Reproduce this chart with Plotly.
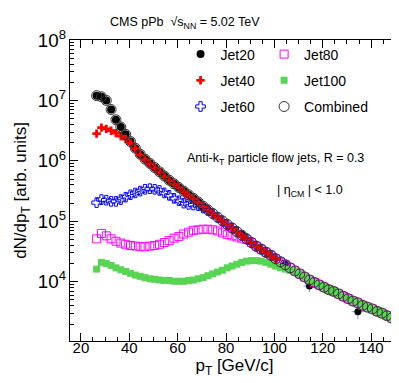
import plotly.graph_objects as go

# bin centres (GeV/c)
PT = [26.5, 28.5, 30.5, 32.5, 34.5, 36.5, 38.5, 40.5, 42.5, 44.5,
      46.5, 48.5, 50.5, 52.5, 54.5, 56.5, 58.5, 60.5, 62.5, 64.5,
      66.5, 68.5, 70.5, 72.5, 74.5, 76.5, 78.5, 80.5, 82.5, 84.5,
      86.5, 88.5, 90.5, 92.5, 94.5, 96.5, 98.5, 100.5, 102.5, 104.5,
      106.5, 108.5, 110.5, 112.5, 114.5, 116.5, 118.5, 120.5, 122.5, 124.5,
      126.5, 128.5, 130.5, 132.5, 134.5, 136.5, 138.5, 140.5, 142.5, 144.5,
      146.5, 148.5, 150.5]

COMBINED = [1.20e7, 1.15e7, 1.00e7, 7.08e6, 4.79e6, 3.63e6, 2.75e6, 2.09e6, 1.62e6, 1.29e6,
            1.07e6, 9.12e5, 7.76e5, 6.61e5, 5.62e5, 4.79e5, 4.17e5, 3.63e5, 3.16e5, 2.75e5,
            2.40e5, 2.09e5, 1.78e5, 1.55e5, 1.35e5, 1.17e5, 1.02e5, 8.91e4, 7.76e4, 6.76e4,
            5.89e4, 5.13e4, 4.47e4, 3.89e4, 3.47e4, 3.09e4, 2.75e4, 2.40e4, 2.14e4, 1.91e4,
            1.70e4, 1.51e4, 1.35e4, 1.20e4, 1.07e4, 9.77e3, 8.91e3, 8.13e3, 7.41e3, 6.92e3,
            6.31e3, 5.75e3, 5.25e3, 4.79e3, 4.47e3, 4.07e3, 3.80e3, 3.55e3, 3.24e3, 3.02e3,
            2.75e3, 2.51e3, 2.34e3]

JET20 = [1.20e7, 1.15e7, 1.00e7, 7.08e6, 4.79e6, 3.63e6, 2.75e6, 2.09e6, 1.62e6, 1.29e6,
         1.07e6, 9.12e5, 7.76e5, 6.61e5, 5.62e5, 4.79e5, 4.17e5, 3.63e5, 3.16e5, 2.75e5,
         2.40e5, 2.09e5, 1.78e5]
# sparse high-pT Jet20 bins that stick out of the combined band
JET20_HI_PT = [72.5, 86.5, 104.5, 114.5, 134.5]
JET20_HI = [1.58e5, 6.2e4, 1.95e4, 8.5e3, 3.2e3]
JET20_HI_ERR = [2.0e4, 8.0e3, 2.5e3, 1.7e3, 8.0e2]
JET20_HI_XERR = [2.5, 2.5, 2.5, 2.5, 2.5]

JET40 = [2.82e6, 3.55e6, 3.39e6, 3.16e6, 2.88e6, 2.57e6, 2.29e6, 1.95e6, 1.58e6, 1.26e6,
         1.05e6, 8.90e5, 7.60e5, 6.50e5, 5.50e5, 4.70e5, 4.10e5, 3.60e5, 3.10e5, 2.70e5,
         2.35e5, 2.05e5, 1.76e5, 1.53e5, 1.33e5, 1.16e5, 1.01e5, 8.80e4, 7.70e4, 6.70e4,
         5.80e4, 5.10e4, 4.40e4, 3.85e4, 3.45e4, 3.05e4, 2.72e4, 2.38e4]

JET60 = [2.04e5, 2.29e5, 2.24e5, 2.14e5, 2.14e5, 2.29e5, 2.51e5, 2.75e5, 2.95e5, 3.16e5,
         3.39e5, 3.47e5, 3.39e5, 3.24e5, 2.95e5, 2.69e5, 2.40e5, 2.19e5, 2.00e5, 1.91e5,
         1.86e5, 1.82e5, 1.66e5, 1.51e5, 1.33e5, 1.16e5, 1.01e5, 8.80e4, 7.70e4, 6.70e4,
         5.80e4, 5.10e4, 4.40e4, 3.85e4, 3.45e4, 3.05e4, 2.72e4, 2.38e4, 2.12e4, 1.89e4]

JET80 = [5.13e4, 6.31e4, 5.75e4, 5.13e4, 4.68e4, 4.37e4, 4.17e4, 3.98e4, 3.89e4, 3.80e4,
         3.80e4, 3.89e4, 3.98e4, 4.17e4, 4.47e4, 4.79e4, 5.25e4, 5.62e4, 6.17e4, 6.61e4,
         7.08e4, 7.24e4, 7.41e4, 7.41e4, 7.24e4, 6.92e4, 6.46e4, 6.03e4, 5.75e4, 5.50e4,
         5.25e4, 5.00e4, 4.47e4, 3.89e4, 3.47e4, 3.09e4, 2.75e4, 2.40e4, 2.14e4, 1.91e4,
         1.70e4, 1.51e4, 1.35e4, 1.20e4, 1.07e4, 9.77e3, 8.91e3, 8.13e3, 7.41e3, 6.92e3,
         6.31e3, 5.75e3, 5.25e3, 4.79e3, 4.47e3, 4.07e3, 3.80e3, 3.55e3, 3.24e3, 3.02e3,
         2.75e3, 2.51e3, 2.34e3]

JET100 = [1.62e4, 2.09e4, 2.00e4, 1.86e4, 1.70e4, 1.58e4, 1.48e4, 1.38e4, 1.29e4, 1.23e4,
          1.17e4, 1.12e4, 1.10e4, 1.07e4, 1.05e4, 1.05e4, 1.02e4, 1.02e4, 1.02e4, 1.05e4,
          1.07e4, 1.12e4, 1.17e4, 1.26e4, 1.35e4, 1.45e4, 1.55e4, 1.70e4, 1.82e4, 1.95e4,
          2.09e4, 2.19e4, 2.24e4, 2.24e4, 2.19e4, 2.09e4, 1.95e4, 1.82e4, 1.70e4, 1.62e4,
          1.55e4, 1.48e4, 1.35e4, 1.20e4, 1.07e4, 9.77e3, 8.91e3, 8.13e3, 7.41e3, 6.92e3,
          6.31e3, 5.75e3, 5.25e3, 4.79e3, 4.47e3, 4.07e3, 3.80e3, 3.55e3, 3.24e3, 3.02e3,
          2.75e3, 2.51e3, 2.34e3]

FONT = "Liberation Sans, Arial, sans-serif"

fig = go.Figure()

# draw order: black underneath, combined circles on top
fig.add_trace(go.Scatter(
    x=PT[:len(JET20)], y=JET20, mode="markers", name="Jet20",
    marker=dict(symbol="circle", size=8, color="black"),
    legend="legend", legendrank=1, legendgroup="j20",
))
fig.add_trace(go.Scatter(
    x=JET20_HI_PT, y=JET20_HI, mode="markers", showlegend=False,
    marker=dict(symbol="circle", size=7, color="black"),
    error_y=dict(type="data", array=JET20_HI_ERR, color="rgba(110,110,230,0.8)", thickness=1, width=0),
    error_x=dict(type="data", array=JET20_HI_XERR, color="rgba(110,110,230,0.8)", thickness=1, width=0),
))
fig.add_trace(go.Scatter(
    x=PT[:len(JET60)], y=JET60, mode="markers", name="Jet60",
    marker=dict(symbol="cross-open", size=8, color="#0000ff", line=dict(width=1, color="#0000ff")),
    legend="legend", legendrank=3, legendgroup="j60",
))
fig.add_trace(go.Scatter(
    x=PT[:len(JET80)], y=JET80, mode="markers", name="Jet80",
    marker=dict(symbol="square-open", size=8, color="#ff00ff", line=dict(width=1, color="#ff00ff")),
    legend="legend2", legendrank=4, legendgroup="j80",
))
fig.add_trace(go.Scatter(
    x=PT[:len(JET100)], y=JET100, mode="markers", name="Jet100",
    marker=dict(symbol="square", size=7, color="#59d454"),
    legend="legend2", legendrank=5, legendgroup="j100",
))
fig.add_trace(go.Scatter(
    x=PT[:len(JET40)], y=JET40, mode="markers", name="Jet40",
    marker=dict(symbol="cross", size=7, color="#ff0000"),
    legend="legend", legendrank=2, legendgroup="j40",
))
fig.add_trace(go.Scatter(
    x=PT, y=COMBINED, mode="markers", name="Combined",
    marker=dict(symbol="circle-open", size=10, color="#333333", line=dict(width=1, color="#333333")),
    legend="legend2", legendrank=6, legendgroup="comb",
))

legend_style = dict(
    bgcolor="rgba(0,0,0,0)", borderwidth=0,
    font=dict(family=FONT, size=14, color="black"),
    itemsizing="trace", tracegroupgap=5,
    xanchor="left", yanchor="top", traceorder="grouped",
)

fig.update_layout(
    width=399, height=383,
    margin=dict(l=62, r=8, t=32, b=50),
    plot_bgcolor="white", paper_bgcolor="white",
    font=dict(family=FONT, color="black"),
    legend=dict(x=0.336, y=1.005, **legend_style),
    legend2=dict(x=0.59, y=1.005, **legend_style),
    xaxis=dict(
        range=[15.5, 151.5], tickvals=[20, 40, 60, 80, 100, 120, 140],
        ticks="inside", ticklen=8, tickcolor="black",
        minor=dict(dtick=5, ticks="inside", ticklen=4, tickcolor="black"),
        showline=True, linecolor="black", linewidth=1, mirror="ticks",
        showgrid=False, zeroline=False,
        tickfont=dict(size=15), ticklabelstandoff=-7,
        title=dict(text="p<sub>T</sub> [GeV/c]", font=dict(size=17), standoff=0),
    ),
    yaxis=dict(
        type="log", range=[3.02, 8], dtick=1, exponentformat="power",
        ticks="inside", ticklen=8, tickcolor="black",
        minor=dict(ticks="inside", ticklen=4, tickcolor="black", dtick="D1"),
        showline=True, linecolor="black", linewidth=1, mirror="ticks",
        showgrid=False, zeroline=False,
        tickfont=dict(size=15),
        title=dict(text="dN/dp<sub>T</sub> [arb. units]", font=dict(size=17), standoff=6),
    ),
)

fig.add_annotation(
    text="CMS pPb  √s<sub>NN</sub> = 5.02 TeV", xref="paper", yref="paper",
    x=0.35, y=1.055, xanchor="center", yanchor="middle", showarrow=False,
    font=dict(size=12.5),
)
fig.add_annotation(
    text="Anti-k<sub>T</sub> particle flow jets, R = 0.3", xref="paper", yref="paper",
    x=0.625, y=0.605, xanchor="center", yanchor="middle", showarrow=False,
    font=dict(size=12.5),
)
fig.add_annotation(
    text="| η<sub>CM</sub> | < 1.0", xref="paper", yref="paper",
    x=0.73, y=0.5, xanchor="center", yanchor="middle", showarrow=False,
    font=dict(size=12.5),
)

fig.write_html("out.html")
